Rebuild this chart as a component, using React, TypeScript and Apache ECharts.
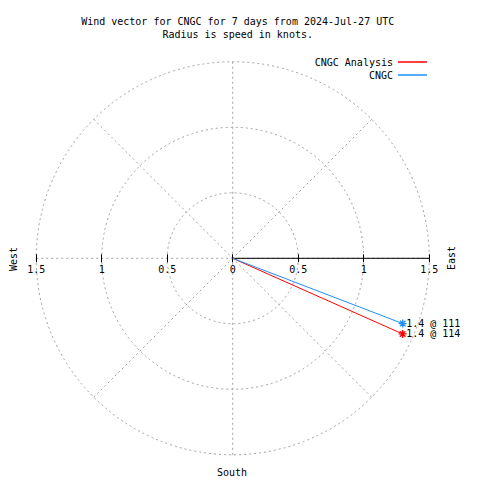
import React, { useEffect, useRef } from "react";
import * as echarts from "echarts";

// ---- data ----
const seriesNames = ["CNGC Analysis", "CNGC"];
const speeds = [1.42, 1.39]; // knots
const directions = [114, 111]; // degrees
const radiusMin = 0;
const radiusMax = 1.5;
const radiusStep = 0.5;
const angleStep = 45;
const titleLines = [
  "Wind vector for CNGC for 7 days from 2024-Jul-27 UTC",
  "Radius is speed in knots.",
];
const compassLabels = ["West", "East", "South"];

const FONT = "DejaVu Sans Mono";
const colors = ["#ff0000", "#1f8fff"];
const CX = 232.7;
const CY = 258.3;
const R = 196.5;
const grayDash = { color: "#a0a0a0", width: 1, type: [2, 3] as any };
const STAR =
  "path://M5,0L5,10M0,5L10,5M1.5,1.5L8.5,8.5M8.5,1.5L1.5,8.5";

export default function App() {
  const ref = useRef<HTMLDivElement>(null);
  useEffect(() => {
    if (!ref.current) return;
    const chart = echarts.init(ref.current, undefined, { renderer: "svg" });
    const vectorSeries = seriesNames.map((name, i) => ({
      name,
      type: "line",
      coordinateSystem: "polar",
      polarIndex: 0,
      z: 5 + i,
      color: colors[i],
      lineStyle: { color: colors[i], width: 1 },
      symbol: "none",
      data: [
        { value: [0, directions[i]] },
        {
          value: [speeds[i], directions[i]],
          symbol: STAR,
          symbolSize: 8,
          itemStyle: { color: "none", borderColor: colors[i], borderWidth: 1.3 },
          label: {
            show: true,
            position: "right",
            distance: -3,
            formatter: `${speeds[i].toFixed(1)} @ ${directions[i]}`,
            fontFamily: FONT,
            fontSize: 10,
            color: "#000",
          },
        },
      ],
    }));
    const axisTicks = (v: number) => String(Math.abs(v));
    chart.setOption({
      animation: false,
      backgroundColor: "#fff",
      title: {
        text: titleLines.join("\n"),
        left: CX,
        top: 10,
        textAlign: "center",
        textStyle: {
          fontFamily: FONT,
          fontSize: 10,
          fontWeight: "normal",
          color: "#000",
          lineHeight: 13,
        },
      },
      legend: {
        data: seriesNames,
        orient: "vertical",
        align: "right",
        right: 53,
        top: 56,
        padding: 0,
        icon: "rect",
        itemWidth: 29,
        itemHeight: 1.5,
        itemGap: 1,
        textStyle: { fontFamily: FONT, fontSize: 10, color: "#000", lineHeight: 12 },
      },
      polar: { center: [CX, CY], radius: R },
      angleAxis: {
        type: "value",
        min: 0,
        max: 360,
        interval: angleStep,
        startAngle: 90,
        clockwise: true,
        axisLine: { show: false },
        axisTick: { show: false },
        axisLabel: { show: false },
        splitLine: { show: true, lineStyle: grayDash },
      },
      radiusAxis: {
        type: "value",
        min: radiusMin,
        max: radiusMax,
        interval: radiusStep,
        axisLine: { show: false },
        axisTick: { show: false },
        axisLabel: { show: false },
        splitLine: { show: true, lineStyle: grayDash },
      },
      grid: [{ left: CX - R, width: 2 * R, top: CY - 4 - 50, height: 50 }],
      xAxis: [
        {
          gridIndex: 0,
          type: "value",
          min: -radiusMax,
          max: radiusMax,
          interval: radiusStep,
          axisLine: { show: false },
          axisTick: { show: true, length: 8, lineStyle: { color: "#000", width: 1 } },
          splitLine: { show: false },
          axisLabel: {
            margin: 10,
            formatter: axisTicks,
            fontFamily: FONT,
            fontSize: 10,
            color: "#000",
            showMinLabel: true,
            showMaxLabel: true,
          },
        },
      ],
      yAxis: [{ gridIndex: 0, type: "value", show: false }],
      graphic: [
        {
          type: "text",
          x: 13,
          y: 259,
          rotation: Math.PI / 2,
          style: { text: compassLabels[0], align: "center", verticalAlign: "middle", font: `10px "${FONT}"`, fill: "#000" },
        },
        {
          type: "text",
          x: 451,
          y: 258,
          rotation: Math.PI / 2,
          style: { text: compassLabels[1], align: "center", verticalAlign: "middle", font: `10px "${FONT}"`, fill: "#000" },
        },
        {
          type: "text",
          x: 232,
          y: 472,
          style: { text: compassLabels[2], align: "center", verticalAlign: "middle", font: `10px "${FONT}"`, fill: "#000" },
        },
      ],
      series: [
        {
          name: "eastAxis",
          type: "line",
          coordinateSystem: "polar",
          polarIndex: 0,
          symbol: "none",
          silent: true,
          z: 3,
          lineStyle: { color: "#000", width: 1 },
          data: [
            [radiusMin, 90],
            [radiusMax, 90],
          ],
        },
        ...vectorSeries,
      ],
    });
    return () => chart.dispose();
  }, []);
  return (
    <div
      ref={ref}
      style={{ position: "fixed", left: 0, top: 0, width: 480, height: 480, background: "#fff" }}
    />
  );
}
